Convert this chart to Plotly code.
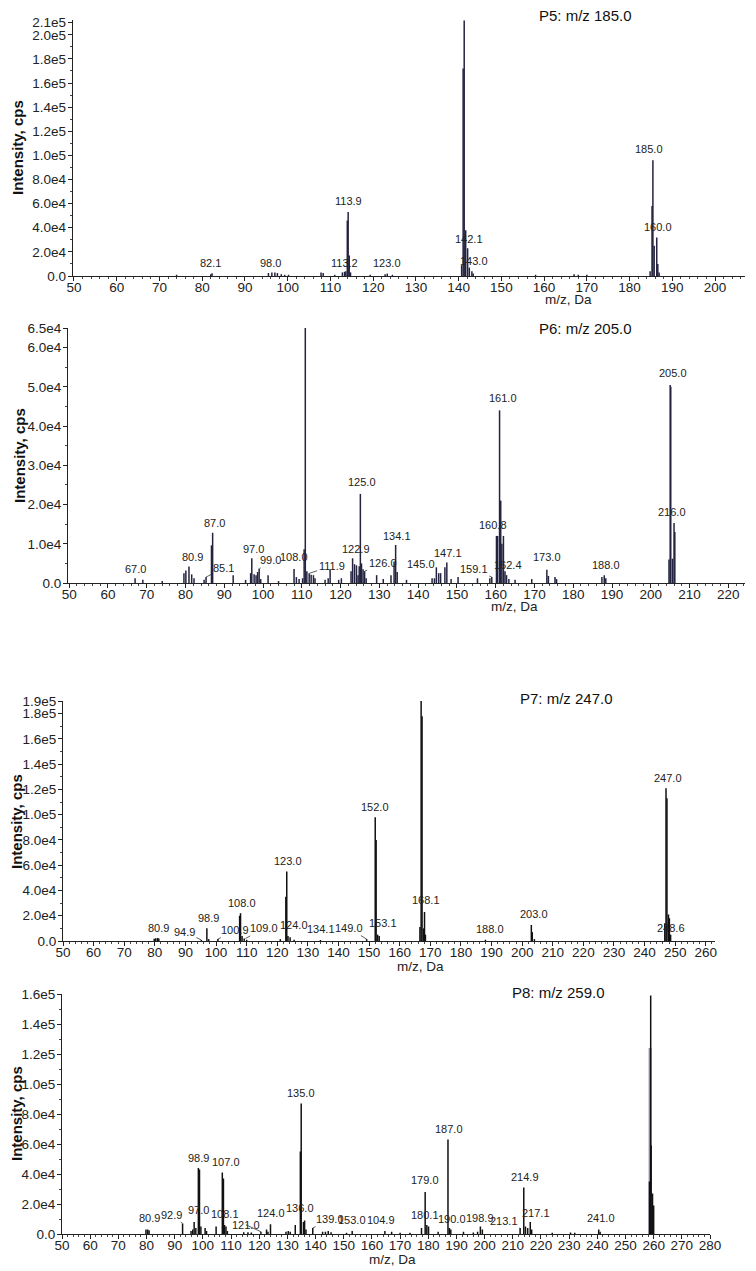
import plotly.graph_objects as go

W, H = 756, 1271
FONT = "Liberation Sans, Arial, sans-serif"

# ---------------- P5: m/z 185.0 ----------------
P5_mz = [74.0, 82.0, 82.3, 95.5, 96.3, 97.0, 97.6, 98.5, 99.3, 100.2,
         107.8, 108.3, 111.0, 112.8, 113.3, 113.6, 113.95, 114.15, 114.4, 114.7,
         119.3, 122.8, 123.3, 124.5, 140.7, 141.05, 141.3, 141.65, 142.1, 142.5,
         143.1, 143.4, 158.0, 167.0, 168.0, 170.0, 184.8, 185.25, 185.45, 185.75,
         186.35, 186.6, 186.9]
P5_int = [1000, 1500, 2200, 2500, 3000, 3000, 2500, 1500, 1000, 1000,
          3000, 2500, 1000, 3000, 3500, 4000, 46000, 53000, 17000, 3000,
          1000, 1500, 2000, 1000, 9000, 172000, 212000, 38000, 23000, 7000,
          4000, 2000, 1000, 1500, 1000, 1000, 4000, 58000, 96000, 25000,
          32000, 10000, 3000]
P5_lab_text = ["82.1", "98.0", "113.2", "113.9", "123.0", "141.1", "142.1", "143.0", "185.0", "160.0"]
P5_lab_x = [82.0, 96.0, 113.3, 114.2, 123.3, 141.3, 142.4, 143.6, 184.5, 186.7]
P5_lab_y = [4000, 4000, 4000, 55500, 4000, 214500, 24000, 6000, 99000, 34000]
P5_yticks = [0, 20000, 40000, 60000, 80000, 100000, 120000, 140000, 160000, 180000, 200000, 210000]
P5_ytext = ["0.0", "2.0e4", "4.0e4", "6.0e4", "8.0e4", "1.0e5", "1.2e5", "1.4e5", "1.6e5", "1.8e5", "2.0e5", "2.1e5"]

# ---------------- P6: m/z 205.0 ----------------
P6_mz = [67.0, 69.0, 74.0, 79.6, 80.1, 80.9, 81.6, 82.2, 84.8, 85.3,
         86.7, 87.0, 92.3, 95.5, 96.8, 97.1, 97.7, 98.2, 98.6, 99.0,
         99.4, 101.3, 104.0, 108.0, 108.6, 109.3, 110.2, 110.6, 110.9, 111.3,
         111.9, 112.4, 113.0, 113.4, 116.0, 116.8, 117.3, 119.5, 120.2, 122.7,
         123.1, 123.6, 124.1, 124.5, 124.8, 125.1, 125.4, 125.8, 126.2, 126.6,
         129.3, 131.0, 133.0, 133.8, 134.2, 134.6, 137.0, 143.6, 144.2, 144.7,
         145.3, 145.8, 146.9, 147.4, 148.5, 150.3, 155.3, 158.5, 159.0, 160.2,
         160.5, 161.0, 161.3, 161.6, 162.0, 162.4, 162.8, 163.4, 165.0, 169.3,
         173.2, 173.6, 175.3, 175.7, 187.4, 188.0, 188.4, 204.7, 205.0, 205.15,
         205.6, 206.0, 206.2]
P6_int = [1200, 800, 500, 2500, 3200, 4200, 2200, 1200, 800, 1500,
          9600, 12800, 2000, 800, 2500, 6300, 2200, 2000, 2800, 3700,
          1000, 2000, 500, 3600, 1500, 1000, 1200, 8600, 65000, 3000,
          2500, 2100, 2000, 1200, 800, 1200, 3400, 800, 1200, 3000,
          6300, 4800, 4500, 2000, 4300, 22700, 5000, 3500, 3000, 1200,
          2000, 1000, 2000, 5500, 9700, 2800, 800, 1200, 1200, 4000,
          2500, 2500, 4000, 5200, 1000, 1500, 1200, 1200, 1500, 12000,
          12000, 44000, 21000, 10000, 12000, 3000, 2000, 1000, 800, 1000,
          3400, 1800, 1500, 1000, 1500, 2000, 1200, 6000, 50500, 50000,
          6200, 15300, 13000]
P6_lab_text = ["67.0", "80.9", "87.0", "97.0", "108.0", "110.9", "122.9", "125.0", "134.1",
               "145.0", "147.1", "160.8", "161.0", "162.4", "173.0", "188.0", "205.0", "216.0"]
P6_lab_x = [67.0, 81.9, 87.4, 97.5, 108.0, 111.3, 124.0, 125.4, 134.5,
            140.7, 147.8, 159.4, 161.9, 163.3, 173.3, 188.5, 205.7, 205.6]
P6_lab_y = [1600, 4600, 13200, 6700, 4600, 66500, 6700, 23800, 10000,
            2900, 5700, 12700, 45000, 2600, 4600, 2500, 51600, 16100]
P6_lead_text = ["85.1", "99.0", "111.9", "126.0", "159.1"]
P6_lead_x = [85.3, 99.2, 112.0, 126.2, 159.0]
P6_lead_y = [1500, 3700, 2500, 3000, 1500]
P6_lead_dx = [17, 11, 22, 18, -18]
P6_lead_dy = [-9, -8, -7, -8, -8]
P6_yticks = [0, 10000, 20000, 30000, 40000, 50000, 60000, 65000]
P6_ytext = ["0.0", "1.0e4", "2.0e4", "3.0e4", "4.0e4", "5.0e4", "6.0e4", "6.5e4"]

# ---------------- P7: m/z 247.0 ----------------
P7_mz = [79.8, 80.3, 80.9, 81.3, 95.2, 97.0, 97.6, 100.6, 107.7, 108.0,
         108.5, 109.2, 110.0, 121.0, 122.8, 123.1, 123.5, 124.2, 125.5, 134.1,
         149.2, 152.0, 152.3, 152.8, 153.3, 166.6, 167.0, 167.3, 167.8, 168.1,
         168.4, 188.0, 203.0, 203.3, 204.0, 246.6, 247.0, 247.3, 247.8, 248.1,
         248.5]
P7_int = [1800, 2200, 2400, 2000, 800, 10000, 1500, 1500, 20000, 22000,
          4000, 2000, 1000, 1500, 35000, 55000, 4000, 3000, 1000, 800,
          1500, 98000, 80000, 5000, 4000, 11000, 190000, 178000, 10000, 23000,
          5000, 1000, 12700, 7000, 1500, 14000, 121000, 113000, 21000, 18000,
          5000]
P7_lab_text = ["80.9", "98.9", "108.0", "123.0", "124.0", "134.1", "152.0", "153.1",
               "167.0", "168.1", "188.0", "203.0", "247.0", "248.6"]
P7_lab_x = [81.1, 97.5, 108.4, 123.6, 125.3, 134.4, 152.0, 154.7,
            168.0, 168.7, 189.6, 204.0, 247.7, 248.5]
P7_lab_y = [3800, 11700, 24000, 56700, 6600, 3400, 99500, 8000,
            190500, 26000, 3400, 15000, 123000, 3900]
P7_lead_text = ["94.9", "100.9", "109.0", "149.0"]
P7_lead_x = [95.2, 100.6, 109.6, 149.2]
P7_lead_y = [800, 1500, 2000, 1500]
P7_lead_dx = [-17, 17, 19, -18]
P7_lead_dy = [-8, -9, -10, -11]
P7_yticks = [0, 20000, 40000, 60000, 80000, 100000, 120000, 140000, 160000, 180000, 190000]
P7_ytext = ["0.0", "2.0e4", "4.0e4", "6.0e4", "8.0e4", "1.0e5", "1.2e5", "1.4e5", "1.6e5", "1.8e5", "1.9e5"]

# ---------------- P8: m/z 259.0 ----------------
P8_mz = [79.8, 80.4, 80.9, 92.8, 95.8, 96.4, 96.9, 97.5, 98.4, 98.8,
         99.3, 100.8, 101.3, 104.7, 106.9, 107.3, 107.7, 108.2, 108.7, 114.5,
         116.0, 117.2, 120.6, 122.6, 123.1, 124.0, 129.5, 130.3, 131.0, 132.8,
         134.6, 134.9, 135.7, 136.1, 136.6, 139.0, 142.5, 143.5, 144.5, 145.5,
         151.0, 153.0, 164.6, 167.0, 170.0, 173.5, 177.6, 178.9, 179.5, 180.1,
         183.5, 187.0, 187.5, 188.0, 192.5, 196.0, 197.5, 198.5, 199.2, 212.6,
         213.9, 214.5, 215.3, 216.2, 216.7, 224.0, 230.5, 232.0, 240.5, 241.0,
         258.5, 258.95, 259.1, 259.6, 260.0]
P8_int = [3000, 3000, 2500, 7000, 2000, 3000, 8000, 4000, 44000, 43000,
          5000, 4000, 2000, 5000, 41000, 37000, 6000, 5000, 2000, 1200,
          1200, 1000, 1500, 3000, 1500, 6500, 1500, 2000, 1500, 6000,
          55000, 87000, 8000, 9000, 3000, 4000, 1500, 1500, 2000, 1200,
          800, 2000, 2000, 1500, 800, 800, 4000, 28000, 6000, 5000,
          1500, 63000, 4000, 3000, 1500, 1000, 1500, 5000, 3000, 4000,
          31000, 5000, 4000, 8000, 3000, 800, 1000, 800, 3000, 1500,
          35000, 159000, 59000, 27000, 19000]
P8_light_mz = [258.75]
P8_light_int = [124000]
P8_lab_text = ["80.9", "98.9", "97.0", "107.0", "108.1", "124.0", "135.0", "136.0", "153.0",
               "104.9", "179.0", "180.1", "187.0", "190.0", "198.9", "214.9", "217.1", "241.0", "259.0"]
P8_lab_x = [80.9, 98.6, 98.3, 108.1, 107.8, 124.1, 134.8, 134.5, 152.8,
            163.3, 178.9, 178.8, 187.3, 188.4, 198.2, 214.4, 218.3, 241.2, 258.6]
P8_lab_y = [5500, 45500, 10700, 43000, 8200, 8700, 89000, 12000, 3800,
            4000, 30500, 7100, 65000, 4900, 5500, 33000, 8900, 5500, 162000]
P8_lead_text = ["92.9", "121.0", "139.0", "213.1"]
P8_lead_x = [92.8, 120.6, 139.0, 212.6]
P8_lead_y = [7000, 1500, 4000, 4000]
P8_lead_dx = [-11, -15, 17, -16]
P8_lead_dy = [-9, -7, -9, -7]
P8_yticks = [0, 20000, 40000, 60000, 80000, 100000, 120000, 140000, 160000]
P8_ytext = ["0.0", "2.0e4", "4.0e4", "6.0e4", "8.0e4", "1.0e5", "1.2e5", "1.4e5", "1.6e5"]

TITLES = ["P5: m/z 185.0", "P6: m/z 205.0", "P7: m/z 247.0", "P8: m/z 259.0"]


def px_x(p):
    return p / W


def px_y(p):
    return 1 - p / H


panels = [
    dict(mz=P5_mz, inten=P5_int, lt=P5_lab_text, lx=P5_lab_x, ly=P5_lab_y,
         dt=[], dx=[], dy=[], ddx=[], ddy=[], yt=P5_yticks, ytt=P5_ytext,
         xr=[49.7, 207.0], yr=[0, 212000], dom_x=(72.7, 745), dom_y=(276, 20.3),
         color="#23233f", minor_y=10000,
         title_pos=(585, 15), xlab_pos=(568, 299), ylab_pos=(17, 148)),
    dict(mz=P6_mz, inten=P6_int, lt=P6_lab_text, lx=P6_lab_x, ly=P6_lab_y,
         dt=P6_lead_text, dx=P6_lead_x, dy=P6_lead_y, ddx=P6_lead_dx, ddy=P6_lead_dy,
         yt=P6_yticks, ytt=P6_ytext,
         xr=[49.7, 224.3], yr=[0, 65000], dom_x=(68, 745), dom_y=(583, 328),
         color="#23233f", minor_y=5000,
         title_pos=(585, 329), xlab_pos=(514, 606), ylab_pos=(19, 456)),
    dict(mz=P7_mz, inten=P7_int, lt=P7_lab_text, lx=P7_lab_x, ly=P7_lab_y,
         dt=P7_lead_text, dx=P7_lead_x, dy=P7_lead_y, ddx=P7_lead_dx, ddy=P7_lead_dy,
         yt=P7_yticks, ytt=P7_ytext,
         xr=[50, 263], yr=[0, 190000], dom_x=(63, 715), dom_y=(941, 701),
         color="#111111", minor_y=10000,
         title_pos=(566, 698), xlab_pos=(420, 966), ylab_pos=(16, 822)),
    dict(mz=P8_mz, inten=P8_int, lt=P8_lab_text, lx=P8_lab_x, ly=P8_lab_y,
         dt=P8_lead_text, dx=P8_lead_x, dy=P8_lead_y, ddx=P8_lead_dx, ddy=P8_lead_dy,
         yt=P8_yticks, ytt=P8_ytext,
         xr=[50, 280], yr=[0, 160000], dom_x=(62, 710), dom_y=(1234, 994),
         color="#111111", minor_y=10000,
         title_pos=(558, 992), xlab_pos=(392, 1259), ylab_pos=(16, 1114)),
]

fig = go.Figure()
annotations = []
layout_axes = {}


def stems(mz, inten):
    xs, ys = [], []
    for m, v in zip(mz, inten):
        xs += [m, m, None]
        ys += [0, v, None]
    return xs, ys


for i, p in enumerate(panels, start=1):
    sfx = "" if i == 1 else str(i)
    xa, ya = "x" + sfx, "y" + sfx
    x0, x1 = p["dom_x"]
    yb, yt = p["dom_y"]

    if i == 4:
        lx_, ly_ = stems(P8_light_mz, P8_light_int)
        fig.add_trace(go.Scatter(x=lx_, y=ly_, mode="lines", xaxis=xa, yaxis=ya,
                                 line=dict(color="#8c8cb8", width=3),
                                 hoverinfo="skip", showlegend=False))

    xs, ys = stems(p["mz"], p["inten"])
    fig.add_trace(go.Scatter(x=xs, y=ys, mode="lines", xaxis=xa, yaxis=ya,
                             line=dict(color=p["color"], width=1.5),
                             hoverinfo="skip", showlegend=False))
    # small origin marker just left of the y axis
    unit_per_px = (p["xr"][1] - p["xr"][0]) / (x1 - x0)
    fig.add_trace(go.Scatter(x=[p["xr"][0] - 2.5 * unit_per_px], y=[0], mode="markers",
                             xaxis=xa, yaxis=ya,
                             marker=dict(symbol="triangle-right", size=7, color="#111111"),
                             cliponaxis=False, hoverinfo="skip", showlegend=False))

    layout_axes["xaxis" + sfx] = dict(
        domain=[px_x(x0), px_x(x1)], range=p["xr"], anchor=ya, automargin=False,
        tickmode="linear", tick0=50, dtick=10, ticks="outside", ticklen=4,
        tickwidth=1, tickcolor="#222", showline=True, linecolor="#222", linewidth=1.3,
        showgrid=False, zeroline=False, ticklabelstandoff=-5,
        tickfont=dict(family=FONT, size=13.5, color="#222"),
        minor=dict(ticks="outside", ticklen=2, tick0=50, dtick=2, tickcolor="#444", showgrid=False),
    )
    layout_axes["yaxis" + sfx] = dict(
        domain=[px_y(yb), px_y(yt)], range=p["yr"], anchor=xa, automargin=False,
        tickmode="array", tickvals=p["yt"], ticktext=p["ytt"],
        ticks="outside", ticklen=4, tickwidth=1, tickcolor="#222",
        showline=True, linecolor="#222", linewidth=1.1,
        showgrid=False, zeroline=False, ticklabelstandoff=-1,
        tickfont=dict(family=FONT, size=13.5, color="#222"),
        minor=dict(ticks="outside", ticklen=2, tick0=0, dtick=p["minor_y"], tickcolor="#444", showgrid=False),
    )

    for t, x, y in zip(p["lt"], p["lx"], p["ly"]):
        annotations.append(dict(x=x, y=y, xref=xa, yref=ya, text=t, showarrow=False,
                                yanchor="bottom", xanchor="center",
                                font=dict(family=FONT, size=11, color="#222")))
    for t, x, y, ddx, ddy in zip(p["dt"], p["dx"], p["dy"], p["ddx"], p["ddy"]):
        annotations.append(dict(x=x, y=y, xref=xa, yref=ya, text=t, showarrow=True,
                                ax=ddx, ay=ddy, arrowhead=0, arrowwidth=0.8,
                                arrowcolor="#333", standoff=0, startstandoff=0,
                                font=dict(family=FONT, size=11, color="#222")))

    tx, ty = p["title_pos"]
    annotations.append(dict(x=px_x(tx), y=px_y(ty), xref="paper", yref="paper",
                            text=TITLES[i - 1], showarrow=False,
                            xanchor="center", yanchor="middle",
                            font=dict(family=FONT, size=15, color="#111")))
    lx, ly = p["xlab_pos"]
    annotations.append(dict(x=px_x(lx), y=px_y(ly), xref="paper", yref="paper",
                            text="m/z, Da", showarrow=False,
                            xanchor="center", yanchor="middle",
                            font=dict(family=FONT, size=13.5, color="#222")))
    yx, yy = p["ylab_pos"]
    annotations.append(dict(x=px_x(yx), y=px_y(yy), xref="paper", yref="paper",
                            text="<b>Intensity, cps</b>", showarrow=False, textangle=-90,
                            xanchor="center", yanchor="middle",
                            font=dict(family=FONT, size=15, color="#111")))

fig.update_layout(
    template="none",
    width=W, height=H, margin=dict(l=0, r=0, t=0, b=0, pad=0, autoexpand=False),
    paper_bgcolor="white", plot_bgcolor="white",
    annotations=annotations, showlegend=False,
    **layout_axes,
)

fig.write_html("out.html", config={"displayModeBar": False},
               post_script="document.body.style.margin='0px';document.body.style.padding='0px';")
